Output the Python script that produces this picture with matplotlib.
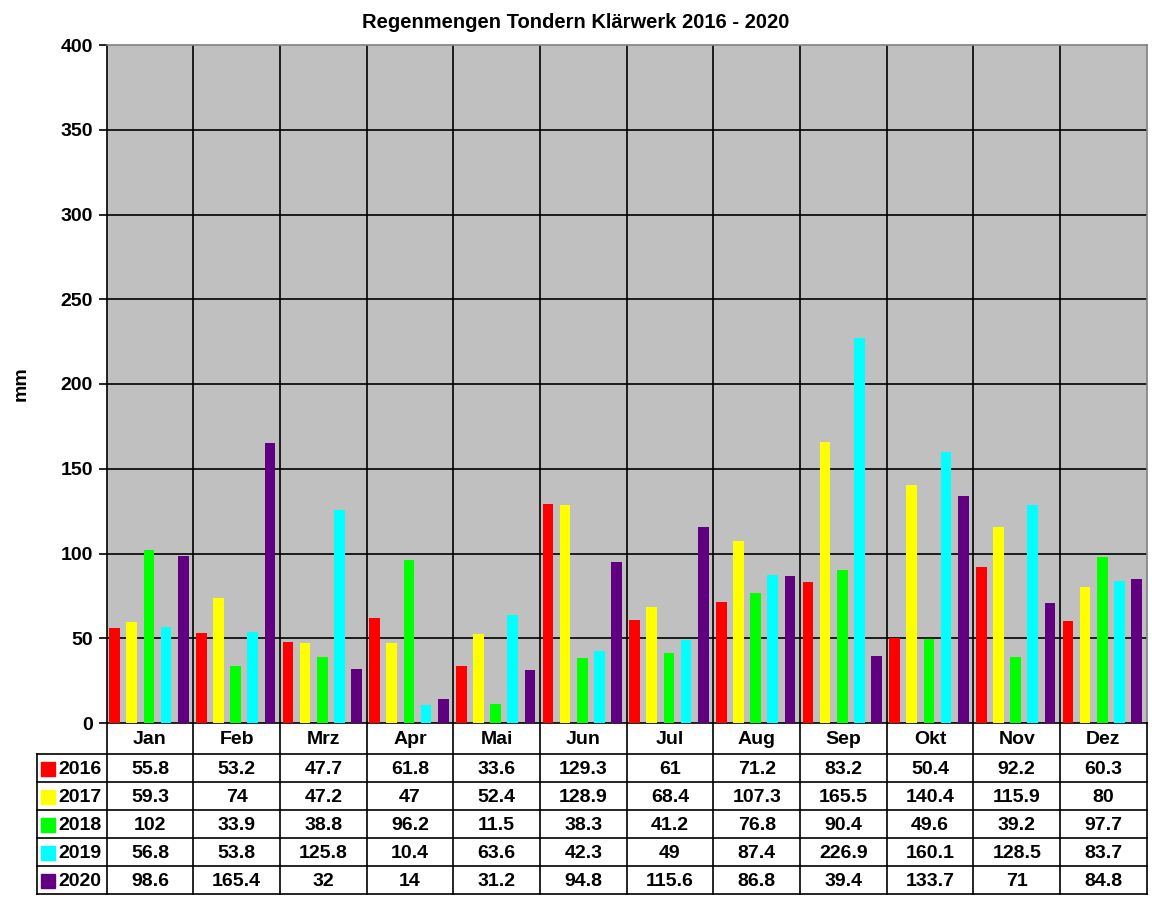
import numpy as np
import matplotlib.pyplot as plt

plt.rcParams['font.family'] = ['Liberation Sans', 'DejaVu Sans']
plt.rcParams['font.weight'] = 'bold'

months = ['Jan', 'Feb', 'Mrz', 'Apr', 'Mai', 'Jun', 'Jul', 'Aug', 'Sep', 'Okt', 'Nov', 'Dez']
years = ['2016', '2017', '2018', '2019', '2020']
colors = ['#FF0000', '#FFFF00', '#00FF00', '#00FFFF', '#600080']

rain_2016 = [55.8, 53.2, 47.7, 61.8, 33.6, 129.3, 61, 71.2, 83.2, 50.4, 92.2, 60.3]
rain_2017 = [59.3, 74, 47.2, 47, 52.4, 128.9, 68.4, 107.3, 165.5, 140.4, 115.9, 80]
rain_2018 = [102, 33.9, 38.8, 96.2, 11.5, 38.3, 41.2, 76.8, 90.4, 49.6, 39.2, 97.7]
rain_2019 = [56.8, 53.8, 125.8, 10.4, 63.6, 42.3, 49, 87.4, 226.9, 160.1, 128.5, 83.7]
rain_2020 = [98.6, 165.4, 32, 14, 31.2, 94.8, 115.6, 86.8, 39.4, 133.7, 71, 84.8]
series = [rain_2016, rain_2017, rain_2018, rain_2019, rain_2020]

FS = 14
W, H = 1152, 900
fig = plt.figure(figsize=(W / 100, H / 100), dpi=100)

# plot area in pixel terms
px_left, px_right, px_top, px_zero = 106.7, 1146.7, 45, 723
ax = fig.add_axes([px_left / W, 1 - px_zero / H, (px_right - px_left) / W, (px_zero - px_top) / H])
ax.set_facecolor('#C0C0C0')

x = np.arange(len(months)) + 0.5
pitch = 0.198
bw = 0.123
for i, (vals, c) in enumerate(zip(series, colors)):
    ax.bar(x + (i - 2) * pitch - 0.013, vals, width=bw, color=c, zorder=3)

ax.set_xlim(0, 12)
ax.set_ylim(0, 400)
ax.set_yticks(np.arange(0, 401, 50))
ax.set_xticks([])
for yv in np.arange(50, 400, 50):
    ax.axhline(yv, color='black', lw=1.2, zorder=1)
for xv in range(1, 12):
    ax.axvline(xv, color='black', lw=1.2, zorder=1)
ax.tick_params(axis='y', labelsize=FS, length=6, width=1.2, pad=4)
for lab in ax.get_yticklabels():
    lab.set_fontweight('bold')
ax.spines['top'].set_color('#808080')
ax.spines['right'].set_color('#808080')
ax.spines['left'].set_color('black')
ax.spines['bottom'].set_color('black')
for s in ax.spines.values():
    s.set_linewidth(1.2)

fig.text(21 / W, 1 - 384 / H, 'mm', rotation=90, ha='center', va='center',
         fontsize=FS, fontweight='bold')
fig.text(576 / W, 1 - 22 / H, 'Regenmengen Tondern Klärwerk 2016 - 2020',
         ha='center', va='center', fontsize=FS + 0.5, fontweight='bold')

# data table below the plot
tbl_left, tbl_bottom = 37, 894
cw = (px_right - px_left) / 12
lx = -(px_left - tbl_left) / cw
tx = fig.add_axes([tbl_left / W, 1 - tbl_bottom / H, (px_right - tbl_left) / W, (tbl_bottom - px_zero) / H])
tx.set_xlim(lx, 12)
hdr, rh = 31, 28
tx.set_ylim(hdr + rh * 5, 0)
tx.axis('off')

lw = 1.2
for j in range(13):
    tx.plot([j, j], [0, hdr + rh * 5], color='black', lw=lw, clip_on=False)
for r in range(6):
    yy = hdr + r * rh
    tx.plot([lx, 12], [yy, yy], color='black', lw=lw, clip_on=False)
tx.plot([lx, lx], [hdr, hdr + rh * 5], color='black', lw=lw, clip_on=False)

for j, m in enumerate(months):
    tx.text(j + 0.5, hdr / 2 + 1, m, ha='center', va='center', fontsize=FS, fontweight='bold')
for r, (yr, vals, c) in enumerate(zip(years, series, colors)):
    yc = hdr + r * rh + rh / 2 + 1
    tx.add_patch(plt.Rectangle((lx + 0.045, yc - 7), 0.16, 14, color=c, clip_on=False))
    tx.text(lx + 0.25, yc, yr, ha='left', va='center', fontsize=FS, fontweight='bold')
    for j, v in enumerate(vals):
        tx.text(j + 0.5, yc, f'{v:g}', ha='center', va='center', fontsize=FS, fontweight='bold')

fig.savefig('out.png', dpi=100)
